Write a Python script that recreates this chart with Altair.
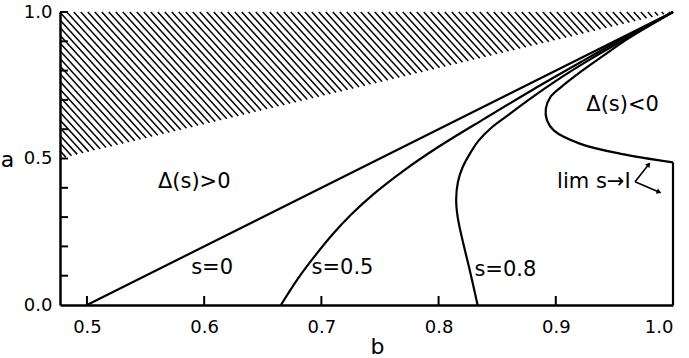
import altair as alt
import numpy as np
import pandas as pd

# ---------------- data ----------------
B_MIN, B_MAX = 0.477, 1.0

# curves (b, a)
s0_b = [0.5, 1.0]
s0_a = [0.0, 1.0]
s05_b = [0.6655, 0.680, 0.695, 0.710, 0.725, 0.745, 0.770, 0.800, 0.840, 0.880, 0.920, 0.955, 1.0]
s05_a = [0.0, 0.090, 0.170, 0.243, 0.307, 0.380, 0.458, 0.540, 0.638, 0.734, 0.826, 0.905, 1.0]
s08_b = [0.8333, 0.8265, 0.8205, 0.8163, 0.8150, 0.8165, 0.8205, 0.8265, 0.834, 0.845,
         0.860, 0.8786, 0.904, 0.930, 0.955, 1.0]
s08_a = [0.0, 0.12, 0.22, 0.30, 0.36, 0.42, 0.47, 0.515, 0.56, 0.605,
         0.65, 0.705, 0.775, 0.84, 0.898, 1.0]
lim_b = [1.0, 0.9556, 0.921, 0.8985, 0.8925, 0.8915, 0.8955, 0.9043, 0.9186, 0.9385, 0.962, 1.0]
lim_a = [0.487, 0.516, 0.55, 0.595, 0.63, 0.67, 0.71, 0.743, 0.788, 0.845, 0.91, 1.0]
edge_b = [1.0, 1.0]
edge_a = [0.0, 0.487]

# hatched (forbidden) region: above the line from (B_MIN, 0.5) to (1, 1)
hatch_edge_b = [B_MIN, 1.0]
hatch_edge_a = [0.5, 1.0]

# annotations
ann_text = ["\u0394(s)>0", "s=0", "s=0.5", "s=0.8", "\u0394(s)<0", "lim s\u2192I"]
ann_b = [0.5915, 0.6068, 0.718, 0.857, 0.957, 0.9325]
ann_a = [0.42, 0.126, 0.126, 0.12, 0.683, 0.42]

# arrows of the "lim s->1" label
arrow_start = (0.9676, 0.4208)
arrow_tips_b = [0.9789, 0.9875]
arrow_tips_a = [0.478, 0.3867]

x_tick_vals = [0.5, 0.6, 0.7, 0.8, 0.9]
x_label_vals = [0.5, 0.6, 0.7, 0.8, 0.9, 1.0]
y_tick_vals = [0.1, 0.2, 0.3, 0.4, 0.5, 0.6, 0.7, 0.8, 0.9, 1.0]
y_label_vals = [0.0, 0.5, 1.0]

# ---------------- layout ----------------
W, H = 613, 293
PX_B = W / (B_MAX - B_MIN)   # pixels per unit b
PX_A = H / 1.0               # pixels per unit a
FONT = "DejaVu Sans"

# ---------------- tables ----------------
rows = []
for name, bs, as_ in [("s0", s0_b, s0_a), ("s05", s05_b, s05_a), ("s08", s08_b, s08_a),
                      ("lim", lim_b, lim_a), ("edge", edge_b, edge_a)]:
    for i, (b, a) in enumerate(zip(bs, as_)):
        rows.append({"series": name, "idx": i, "b": b, "a": a})
curves = pd.DataFrame(rows)

# hatch lines (diagonal, top-left to bottom-right) clipped to the region
slope_px = 1.1
k = slope_px * PX_B / PX_A
m = (hatch_edge_a[1] - hatch_edge_a[0]) / (hatch_edge_b[1] - hatch_edge_b[0])
step = 7.0 / PX_B
hrows = []
b0 = B_MIN - (1 - hatch_edge_a[0]) / k
while b0 < B_MAX:
    if b0 >= B_MIN:
        sb, sa = b0, 1.0
    else:
        sb, sa = B_MIN, 1 - k * (B_MIN - b0)
    eb = (1 - hatch_edge_a[0] + k * b0 + m * hatch_edge_b[0]) / (k + m)
    ea = 1 - k * (eb - b0)
    if sa > ea and eb > sb:
        hrows.append({"b": sb, "a": sa, "b2": eb, "a2": ea})
    b0 += step
hatch = pd.DataFrame(hrows)

ann = pd.DataFrame({"t": ann_text, "b": ann_b, "a": ann_a})

arr = pd.DataFrame({"b": [arrow_start[0]] * 2, "a": [arrow_start[1]] * 2,
                    "b2": arrow_tips_b, "a2": arrow_tips_a})
ang = []
for tb, ta in zip(arrow_tips_b, arrow_tips_a):
    dx = (tb - arrow_start[0]) * PX_B
    dy = -(ta - arrow_start[1]) * PX_A
    ang.append(float(np.degrees(np.arctan2(dx, -dy)) % 360))
heads = pd.DataFrame({"b": arrow_tips_b, "a": arrow_tips_a, "ang": ang})

xt = pd.DataFrame({"b": x_tick_vals})
yt = pd.DataFrame({"a": y_tick_vals})

xs = alt.Scale(domain=[B_MIN, B_MAX], nice=False, zero=False)
ys = alt.Scale(domain=[0, 1], nice=False, zero=False)

x_axis = alt.Axis(values=x_label_vals, format=".1f", ticks=False, tickSize=0, grid=False,
                  domainColor="black", domainWidth=2.5, labelFont=FONT, labelFontSize=18,
                  labelColor="black", labelPadding=13, title="b", titleFont=FONT,
                  titleFontSize=22, titleFontWeight="normal", titleColor="black",
                  titleX=317, titleY=41, titleAlign="center", titleBaseline="middle")
y_axis = alt.Axis(values=y_label_vals, format=".1f", ticks=False, tickSize=0, grid=False,
                  domainColor="black", domainWidth=2.5, labelFont=FONT, labelFontSize=18,
                  labelColor="black", labelPadding=8, title="a", titleFont=FONT,
                  titleFontSize=22, titleFontWeight="normal", titleColor="black",
                  titleAngle=0, titleX=-53, titleY=147, titleAlign="center",
                  titleBaseline="middle")

hatch_layer = alt.Chart(hatch).mark_rule(color="black", strokeWidth=1.5).encode(
    x=alt.X("b:Q", scale=xs, axis=x_axis),
    y=alt.Y("a:Q", scale=ys, axis=y_axis),
    x2="b2:Q", y2="a2:Q")

curve_layer = alt.Chart(curves).mark_line(color="black", strokeWidth=2.2,
                                          interpolate="catmull-rom").encode(
    x=alt.X("b:Q", scale=xs), y=alt.Y("a:Q", scale=ys),
    detail="series:N", order="idx:Q")

xtick_layer = alt.Chart(xt).mark_rule(color="black", strokeWidth=2).encode(
    x=alt.X("b:Q", scale=xs), y=alt.value(H), y2=alt.value(H - 9))
ytick_layer = alt.Chart(yt).mark_rule(color="black", strokeWidth=2).encode(
    y=alt.Y("a:Q", scale=ys), x=alt.value(0), x2=alt.value(8))

text_layer = alt.Chart(ann).mark_text(font=FONT, fontSize=21, color="black",
                                      align="center", baseline="middle").encode(
    x=alt.X("b:Q", scale=xs), y=alt.Y("a:Q", scale=ys), text="t:N")

arrow_layer = alt.Chart(arr).mark_rule(color="black", strokeWidth=1.6).encode(
    x=alt.X("b:Q", scale=xs), y=alt.Y("a:Q", scale=ys), x2="b2:Q", y2="a2:Q")
head_layer = alt.Chart(heads).mark_point(shape="triangle", filled=True, color="black",
                                         size=32, opacity=1).encode(
    x=alt.X("b:Q", scale=xs), y=alt.Y("a:Q", scale=ys), angle=alt.Angle("ang:Q", scale=None))

chart = alt.layer(hatch_layer, curve_layer, xtick_layer, ytick_layer, text_layer,
                  arrow_layer, head_layer).properties(
    width=W, height=H, autosize="none",
    padding={"left": 60, "top": 12, "right": 16, "bottom": 53},
    background="white"
).configure_view(stroke=None)

chart.save("out.html", embed_options={"renderer": "svg", "actions": False})
